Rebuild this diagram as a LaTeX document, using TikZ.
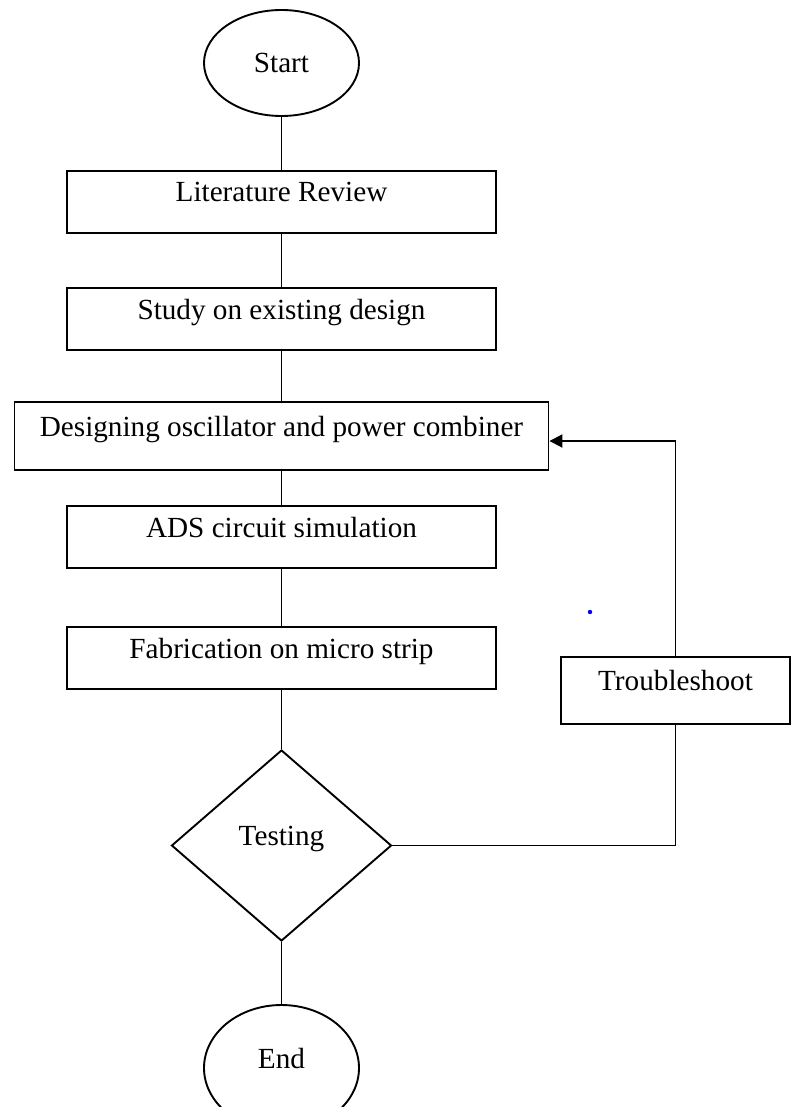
\documentclass[tikz,border=0pt]{standalone}
\usepackage{fontspec}
\setmainfont{Liberation Serif}
\usepackage{tikz}
\usetikzlibrary{shapes.geometric,arrows.meta}
\begin{document}
\begin{tikzpicture}[x=0.5pt,y=-0.5pt]
\tikzstyle{every node}+=[inner sep=0pt, font=\fontsize{14.6}{17}\selectfont]
\tikzstyle{stepbox}=[draw=black, line width=0.95pt, rectangle, minimum width=214.5pt, minimum height=31pt, text height=6pt, text depth=6pt]
\tikzstyle{termin}=[draw=black, line width=0.95pt, ellipse, minimum width=77.5pt]
\tikzstyle{flow}=[black, line width=0.95pt]
\useasboundingbox (0,0) rectangle (793,1107);
\node [termin, minimum height=53pt] (start) at (281.5,63) {Start};
\node [stepbox] (litrev) at (281.5,202) {Literature Review};
\node [stepbox] (study) at (281.5,319) {Study on existing design};
\node [stepbox, minimum width=267pt, minimum height=34pt] (design) at (281.5,436) {Designing oscillator and power combiner};
\node [stepbox] (ads) at (281.5,537) {ADS circuit simulation};
\node [stepbox] (fab) at (281.5,658) {Fabrication on micro strip};
\node [draw=black, line width=0.95pt, diamond, minimum width=110pt, minimum height=95.5pt, text height=6pt, text depth=6pt] (test) at (281.5,845.5) {Testing};
\node [termin, minimum height=63pt, text height=6pt, text depth=6pt] (finish) at (281.5,1068) {End};
\node [stepbox, minimum width=114.5pt, minimum height=33.5pt] (trouble) at (675.5,690.5) {Troubleshoot};
\draw [flow] (start) -- (litrev);
\draw [flow] (litrev) -- (study);
\draw [flow] (study) -- (design);
\draw [flow] (design) -- (ads);
\draw [flow] (ads) -- (fab);
\draw [flow] (fab) -- (test);
\draw [flow] (test) -- (finish);
\draw [flow] (test.east) -| (trouble.south);
\draw [flow, -{Triangle[length=6.5pt,width=6.5pt]}] (trouble.north) |- ([yshift=-2.5pt]design.east);
\fill [blue] (590,612) circle (2.2);
\end{tikzpicture}
\end{document}
